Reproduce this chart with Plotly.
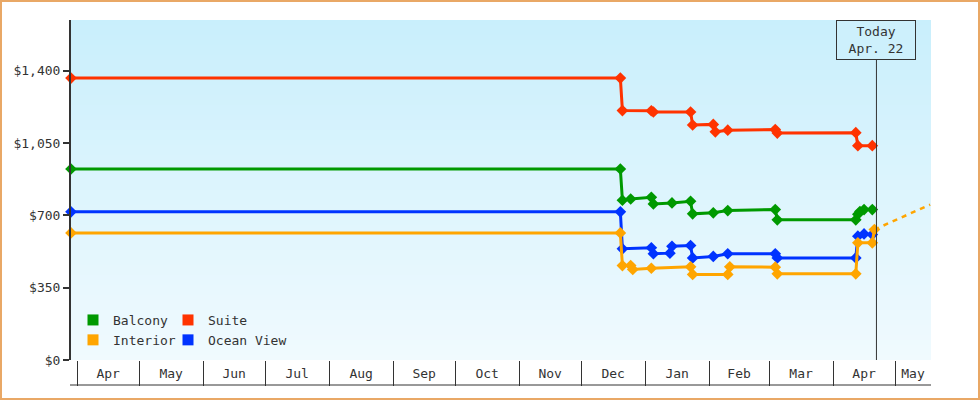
import pandas as pd
import plotly.graph_objects as go

# price observations (USD) per cabin type
balcony_dates = ["2023-03-29", "2023-12-20", "2023-12-21", "2023-12-25", "2024-01-04", "2024-01-05",
                 "2024-01-14", "2024-01-23", "2024-01-24", "2024-02-03", "2024-02-10", "2024-03-04",
                 "2024-03-05", "2024-04-12", "2024-04-13", "2024-04-14", "2024-04-16", "2024-04-20"]
balcony_prices = [924, 924, 773, 779, 787, 755, 760, 768, 707, 712, 723, 728, 678, 678, 705, 718, 728, 728]

suite_dates = ["2023-03-29", "2023-12-20", "2023-12-21", "2024-01-04", "2024-01-05", "2024-01-23",
               "2024-01-24", "2024-02-03", "2024-02-04", "2024-02-10", "2024-03-04", "2024-03-05",
               "2024-04-12", "2024-04-13", "2024-04-20"]
suite_prices = [1364, 1364, 1207, 1206, 1200, 1200, 1137, 1140, 1104, 1112, 1115, 1098, 1100, 1037, 1037]

ocean_dates = ["2023-03-29", "2023-12-20", "2023-12-21", "2024-01-04", "2024-01-05", "2024-01-13",
               "2024-01-14", "2024-01-23", "2024-01-24", "2024-02-03", "2024-02-10", "2024-03-04",
               "2024-03-05", "2024-04-12", "2024-04-13", "2024-04-16", "2024-04-20"]
ocean_prices = [717, 717, 538, 543, 514, 517, 550, 554, 494, 501, 514, 514, 494, 494, 599, 610, 607]

interior_dates = ["2023-03-29", "2023-12-20", "2023-12-21", "2023-12-25", "2023-12-26", "2024-01-04",
                  "2024-01-23", "2024-01-24", "2024-02-10", "2024-02-11", "2024-03-04", "2024-03-05",
                  "2024-04-12", "2024-04-13", "2024-04-20", "2024-04-21"]
interior_prices = [615, 615, 457, 457, 438, 444, 451, 414, 414, 451, 449, 417, 417, 567, 567, 631]

# projected interior price
forecast_dates = ["2024-04-21", "2024-05-18"]
forecast_prices = [631, 752]

month_labels = ["Apr", "May", "Jun", "Jul", "Aug", "Sep", "Oct", "Nov", "Dec", "Jan", "Feb", "Mar", "Apr", "May"]
y_ticks = [0, 350, 700, 1050, 1400]
y_tick_labels = ["$0", "$350", "$700", "$1,050", "$1,400"]

TODAY = "2024-04-22"
X_RANGE = ["2023-03-29", "2024-05-18 10:00"]
Y_RANGE = [0, 1645]

COLORS = {
    "Balcony": "#009900",
    "Suite": "#ff3300",
    "Interior": "#ffa500",
    "Ocean View": "#0033ff",
}
FONT = dict(family="DejaVu Sans Mono", size=13, color="#333333")

# plot area in pixels
W, H = 980, 400
L, R, T, B = 71, 49, 20, 40
PW, PH = W - L - R, H - T - B

fig = go.Figure()

series = [
    ("Balcony", balcony_dates, balcony_prices),
    ("Suite", suite_dates, suite_prices),
    ("Ocean View", ocean_dates, ocean_prices),
    ("Interior", interior_dates, interior_prices),
]
for name, xs, ys in series:
    fig.add_trace(go.Scatter(
        x=xs, y=ys, name=name, mode="lines+markers", showlegend=False,
        line=dict(color=COLORS[name], width=3),
        marker=dict(symbol="diamond", size=9, color=COLORS[name]),
        cliponaxis=False,
    ))

fig.add_trace(go.Scatter(
    x=forecast_dates, y=forecast_prices, mode="lines", showlegend=False,
    line=dict(color=COLORS["Interior"], width=2.5, dash="5px,5px"),
))

# legend entries (square swatches), two columns
for name, legend in [("Balcony", "legend"), ("Interior", "legend"),
                     ("Suite", "legend2"), ("Ocean View", "legend2")]:
    fig.add_trace(go.Scatter(
        x=[None], y=[None], mode="markers", name=name, legend=legend,
        marker=dict(symbol="square", size=11, color=COLORS[name]),
    ))

# month labels centred in the visible part of each month
start, end = pd.Timestamp(X_RANGE[0]), pd.Timestamp(X_RANGE[1])
month_starts = pd.date_range("2023-04-01", periods=len(month_labels), freq="MS")
label_pos = []
for ms in month_starts:
    me = ms + pd.offsets.MonthBegin(1)
    a, b = max(ms, start), min(me, end)
    label_pos.append(a + (b - a) / 2)

# vertical gradient background
shapes = []
top_rgb, bot_rgb = (201, 239, 252), (240, 250, 254)
n_bands = 68
for i in range(n_bands):
    f = i / (n_bands - 1)
    c = tuple(round(top_rgb[k] + (bot_rgb[k] - top_rgb[k]) * f) for k in range(3))
    shapes.append(dict(type="rect", xref="paper", yref="paper", layer="below",
                       x0=0, x1=1, y1=1 - i / n_bands, y0=1 - (i + 1) / n_bands,
                       fillcolor="rgb(%d,%d,%d)" % c, line=dict(width=0)))

# today marker line
shapes.append(dict(type="line", xref="x", yref="paper", x0=TODAY, x1=TODAY,
                   y0=0, y1=(PH - 40) / PH, line=dict(color="#333333", width=1)))
# bottom line of month band
shapes.append(dict(type="line", xref="paper", yref="paper", x0=-1 / PW, x1=1,
                   y0=-25 / PH, y1=-25 / PH, line=dict(color="#333333", width=1)))
# outer border
shapes.append(dict(type="rect", xref="paper", yref="paper",
                   x0=(1 - L) / PW, x1=(W - 1 - L) / PW,
                   y0=(PH + T - (H - 1)) / PH, y1=(PH + T - 1) / PH,
                   line=dict(color="#e9a866", width=2), fillcolor="rgba(0,0,0,0)"))

fig.update_layout(
    width=W, height=H,
    margin=dict(l=L, r=R, t=T, b=B),
    paper_bgcolor="white",
    plot_bgcolor="#e0f6fd",
    font=FONT,
    shapes=shapes,
    annotations=[dict(
        x=TODAY, xref="x", y=1, yref="paper", yanchor="top", xanchor="center",
        text="Today<br>Apr. 22", showarrow=False, font=FONT,
        bgcolor="#cdf0fc", bordercolor="#333333", borderwidth=1, borderpad=3,
        width=72, height=32,
    )],
    legend=dict(x=2 / PW, y=(PH - 305 + T) / PH, xanchor="left", yanchor="top",
                bgcolor="rgba(0,0,0,0)", font=FONT, tracegroupgap=0, itemwidth=30),
    legend2=dict(x=97 / PW, y=(PH - 305 + T) / PH, xanchor="left", yanchor="top",
                 bgcolor="rgba(0,0,0,0)", font=FONT, tracegroupgap=0, itemwidth=30),
    xaxis=dict(
        type="date", range=X_RANGE, showgrid=False, zeroline=False, showline=False,
        tickmode="array", tickvals=label_pos, ticktext=month_labels, ticks="",
        ticklabelstandoff=4, tickfont=FONT,
        minor=dict(ticks="outside", ticklen=25, tickwidth=1, tickcolor="#333333",
                   tickmode="linear", tick0="2023-04-01", dtick="M1", showgrid=False),
    ),
    yaxis=dict(
        range=Y_RANGE, showgrid=False, zeroline=False,
        showline=True, linecolor="#333333", linewidth=2,
        tickmode="array", tickvals=y_ticks, ticktext=y_tick_labels,
        ticks="outside", ticklen=6, tickwidth=2, tickcolor="#333333", tickfont=FONT,
    ),
)

fig.write_html("out.html", config={"displayModeBar": False},
               post_script="document.body.style.margin='0';")
